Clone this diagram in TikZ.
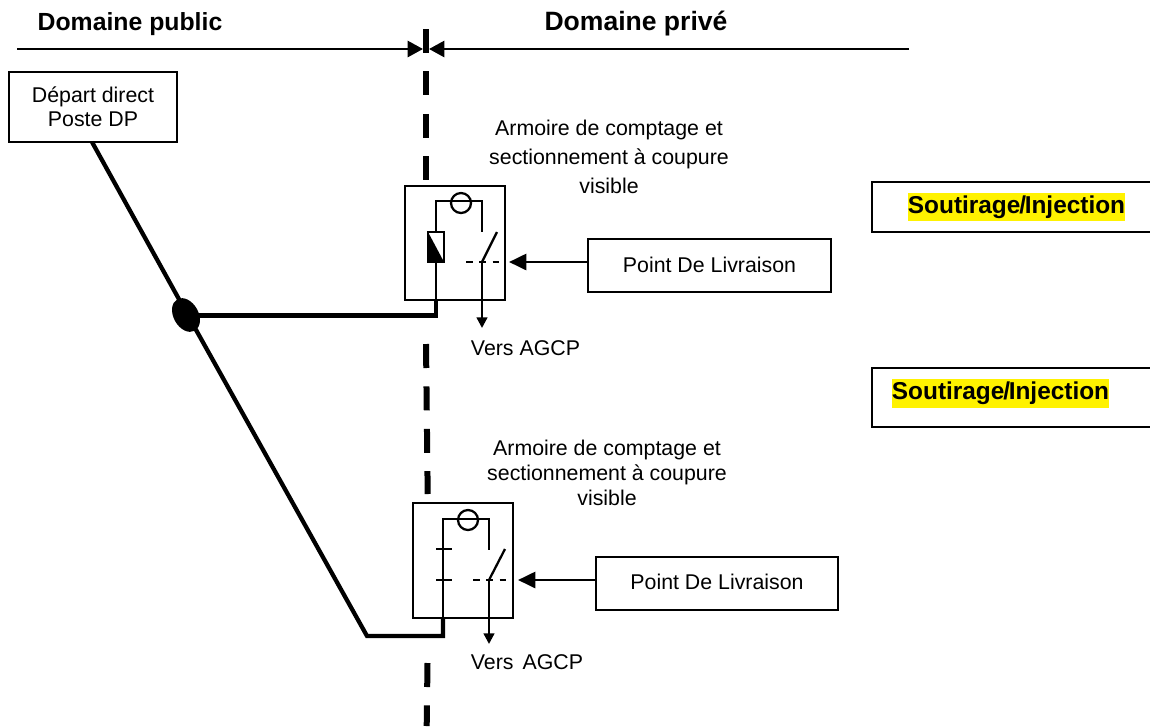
\documentclass[tikz,border=0pt]{standalone}
\usepackage{fontspec}
\setmainfont{Liberation Sans}
\usetikzlibrary{arrows.meta,shapes.geometric}
\newcommand{\sinj}{Soutirage\kern-.05em/\kern-.05em Injection}
\tikzset{
  every node/.style={font=\fontsize{16}{18}\selectfont,align=center,inner sep=0pt},
  box/.style={draw,line width=1.7,fill=white},
  thin line/.style={line width=1.7},
  head line/.style={line width=2},
  feed line/.style={line width=2.1},
  thick line/.style={line width=3.2},
  dashline/.style={line width=4.5,dash pattern=on 18pt off 13.8pt},
  switchdash/.style={line width=1.5,dash pattern=on 5pt off 5pt},
  big tip/.style={-{Triangle[length=11.5pt,width=12pt]}},
  feed tip/.style={-{Triangle[length=13pt,width=12pt]}},
  small tip/.style={-{Triangle[length=8pt,width=8pt]}},
  title/.style={font=\fontsize{18.6}{22}\bfseries\selectfont},
  titleb/.style={font=\fontsize{19.9}{22}\bfseries\selectfont},
  hl/.style={font=\fontsize{18.3}{20}\bfseries\selectfont,fill=yellow,inner xsep=0pt,inner ysep=2pt},
}
\begin{document}
\begin{tikzpicture}[x=0.75pt,y=-0.75pt]
\useasboundingbox (0,0) rectangle (1150,726);
% centre dashed line
\draw[dashline] (426,29) -- (426,180);
\draw[dashline] (426,344) -- (427.7,494);
\draw[dashline] (427.5,663) -- (426.7,726);
% titles
\node[title] (tpub) at (130,24) {Domaine public};
\node[titleb] (tpriv) at (636,24) {Domaine priv\'e};
\coordinate (hl) at (17,49);
\coordinate (hr) at (909,49);
\coordinate (ml) at (423,49);
\coordinate (mr) at (429,49);
\draw[head line,big tip] (hl) -- (ml);
\draw[head line,big tip] (hr) -- (mr);
% source
\node[box,minimum width=126,minimum height=53] (src) at (93,107) {D\'epart direct\\Poste DP};
% cabinets
\node[box,minimum width=75,minimum height=85.5] (c1) at (455,243) {};
\node[box,minimum width=75,minimum height=86] (c2) at (463,560.5) {};
% delivery boxes
\node[box,minimum width=182,minimum height=40] (p1) at (709.5,265.5) {\raisebox{1.5pt}{Point De Livraison}};
\node[box,minimum width=181.5,minimum height=39.5] (p2) at (717,583.5) {\raisebox{2.5pt}{Point De Livraison}};
% main lines
\coordinate (j) at (188,315.5);
\coordinate (b1) at (436,315.5);
\coordinate (c1b) at (436,300);
\coordinate (b2) at (443,636);
\coordinate (c2b) at (443,618);
\coordinate (k) at (367,636);
\draw[thick line] (92,142) -- (j);
\draw[thick line,line join=miter] (j) -- (k) -- (b2) -- (c2b);
\draw[thick line] (j) -- (b1) -- (c1b);
\node[fill=black,ellipse,minimum width=18.7,minimum height=27,rotate=29] (jn) at (186,315) {};
% cabinet 1 internals
\node[draw,line width=1.5,fill=white,minimum width=12,minimum height=22.5] (r1) at (436,247) {};
\fill (428,232) -- (444,262) -- (428,262) -- cycle;
\draw[feed line] (436,300) -- (436,262);
\draw[thin line] (436,232) -- (436,201) -- (482,201) -- (482,232);
\draw[thin line] (461,203) circle[radius=10];
\coordinate (s1a) at (482,262);
\coordinate (s1b) at (497,232);
\coordinate (d1) at (505,262);
\draw[thin line] (s1a) -- (s1b);
\draw[switchdash] (466,262) -- (d1);
\draw[thin line,small tip] (s1a) -- (482,328);
\draw[feed line,feed tip] (p1.west |- 0,262) -- (509,262);
\node (v1) at (525.5,348) {Vers AGCP};
\node[font=\fontsize{16}{21.7}\selectfont] (a1) at (609,157) {Armoire de comptage et\\sectionnement \`a coupure\\visible};
% cabinet 2 internals
\draw[thin line] (443,618) -- (443,519) -- (489,519) -- (489,550);
\draw[thin line] (468,520) circle[radius=10];
\draw[thin line] (436,549) -- (452,549);
\draw[thin line] (436,580) -- (452,580);
\coordinate (s2a) at (489,580);
\coordinate (s2b) at (505,549);
\coordinate (d2) at (513,580);
\draw[thin line] (s2a) -- (s2b);
\draw[switchdash] (473,580) -- (d2);
\draw[thin line,small tip] (s2a) -- (489,644);
\draw[feed line,feed tip] (p2.west |- 0,580) -- (518,580);
\node (v2) at (527,662) {Vers\hspace{.15em} AGCP};
\node[font=\fontsize{16}{18.8}\selectfont] (a2) at (607,473) {Armoire de comptage et\\sectionnement \`a coupure\\visible};
% right boxes, open on the picture edge
\draw[thin line] (1150,182) -| (872,232) -- (1150,232);
\draw[thin line] (1150,368) -| (872,427) -- (1150,427);
\node[hl] (h1) at (1016.5,207) {\sinj};
\node[hl] (h2) at (1000.5,393.5) {\sinj};
\end{tikzpicture}
\end{document}
